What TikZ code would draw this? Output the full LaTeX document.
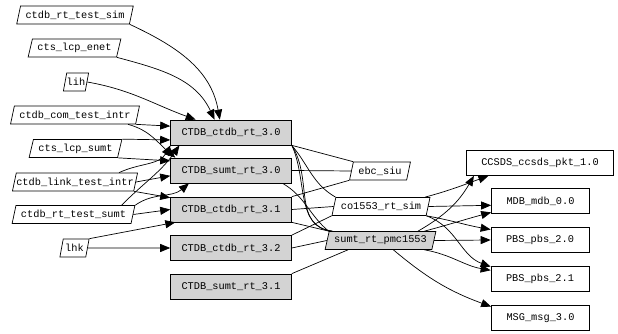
\documentclass[tikz,border=0pt]{standalone}
\usepackage{fontspec}
\usepackage{tikz}
\usetikzlibrary{arrows.meta,shapes.geometric}
\usepackage{xcolor}
\newfontfamily\graphfont{Liberation Mono}
\definecolor{nodegray}{RGB}{211,211,211}

\begin{document}
\begin{tikzpicture}[x=1pt,y=1pt,>={Triangle[length=10pt,width=8pt]},line width=0.7pt,
  font=\graphfont\fontsize{10.3}{12}\selectfont,
  pg/.style={draw,trapezium,trapezium left angle=66,trapezium right angle=114,trapezium stretches body,minimum height=18pt,inner xsep=5pt,inner ysep=0pt,fill=white},
  gbox/.style={draw,fill=nodegray,minimum height=25pt,inner xsep=11pt},
  wbox/.style={draw,fill=white,minimum height=25pt,inner xsep=15pt}]
\useasboundingbox (0,0) rectangle (618,334);
\node[pg] (ts) at (75,319) {ctdb\_rt\_test\_sim};
\node[pg] (le) at (74.5,286) {cts\_lcp\_enet};
\node[pg,inner xsep=0pt] (lih) at (76,252) {lih};
\node[pg] (ci) at (75,219) {ctdb\_com\_test\_intr};
\node[pg] (ls) at (75.5,185.5) {cts\_lcp\_sumt};
\node[pg,inner xsep=0pt] (li) at (75,152) {ctdb\_link\_test\_intr};
\node[pg] (tsu) at (73.5,119.5) {ctdb\_rt\_test\_sumt};
\node[pg,inner xsep=2pt] (lhk) at (74.5,86) {lhk};
\node[gbox] (r30) at (231,201.5) {CTDB\_ctdb\_rt\_3.0};
\node[gbox] (s30) at (231,163.5) {CTDB\_sumt\_rt\_3.0};
\node[gbox] (r31) at (231,124.5) {CTDB\_ctdb\_rt\_3.1};
\node[gbox] (r32) at (231,86) {CTDB\_ctdb\_rt\_3.2};
\node[gbox] (s31) at (231,47.5) {CTDB\_sumt\_rt\_3.1};
\node[pg] (ebc) at (380,163) {ebc\_siu};
\node[pg] (co) at (381,127.5) {co1553\_rt\_sim};
\node[pg,fill=nodegray] (pmc) at (380.5,93.5) {sumt\_rt\_pmc1553};
\node[wbox] (ccsds) at (540,171) {CCSDS\_ccsds\_pkt\_1.0};
\node[wbox] (mdb) at (540.5,133) {MDB\_mdb\_0.0};
\node[wbox] (pbs20) at (540,94) {PBS\_pbs\_2.0};
\node[wbox] (pbs21) at (540,55) {PBS\_pbs\_2.1};
\node[wbox] (msg) at (540.5,16) {MSG\_msg\_3.0};
\draw[->] (ts.bottom right corner) to[out=-25,in=100] (r30.131);
\draw[->] (le.bottom right corner) to[out=-15,in=115] (r30.142);
\draw[->] (lih.east) to[out=-10,in=160] (r30.160);
\draw[->] (ci.bottom right corner) -- (r30.174);
\draw[->] (ci.-10) to[out=-15,in=140] (s30.167);
\draw[->] (ls.top right corner) -- (r30.187);
\draw[->] (ls.bottom right corner) -- (s30.171);
\draw[->] (li.12) to[out=25,in=240] (r30.192);
\draw[->] (li.east) -- (s30.185);
\draw[->] (li.bottom right corner) -- (r31.169);
\draw[->] (tsu.11) to[out=45,in=235] (r30.194);
\draw[->] (tsu.top right corner) to[out=35,in=220] (s30.197);
\draw[->] (tsu.east) -- (r31.west);
\draw[->] (lhk.top right corner) -- (r31.193);
\draw[->] (lhk.east) -- (r32.west);
\draw (r30.south east) -- (ebc.top left corner);
\draw (r30.south east) to[out=-50,in=150] (co.top left corner);
\draw (r30.south east) to[out=-65,in=175] (pmc.169);
\draw (r30.south east) to[out=-58,in=172,looseness=1.1] (pmc.169);
\draw (s30.east) -- (ebc.west);
\draw (s30.-14) to[out=-30,in=140] (pmc.170);
\draw (r31.north east) -- (ebc.bottom left corner);
\draw (r31.east) -- (co.west);
\draw (r31.south east) -- (pmc.top left corner);
\draw (r32.north east) -- (co.bottom left corner);
\draw (r32.east) -- (pmc.west);
\draw (s31.north east) -- (pmc.196);
\draw[->] (co.12) to[out=15,in=200] (ccsds.194);
\draw[->] (co.east) -- (mdb.185);
\draw[->] (co.bottom right corner) to[out=-10,in=170] (pbs20.168);
\draw[->] (co.bottom right corner) to[out=-20,in=160] (pbs21.166);
\draw[->] (pmc.14) to[out=30,in=240] (ccsds.191);
\draw[->] (pmc.12) to[out=15,in=195] (mdb.193);
\draw[->] (pmc.east) -- (pbs20.west);
\draw[->] (pmc.-12) to[out=-10,in=170] (pbs21.170);
\draw[->] (pmc.-36) to[out=-40,in=160] (msg.167);
\end{tikzpicture}
\end{document}
